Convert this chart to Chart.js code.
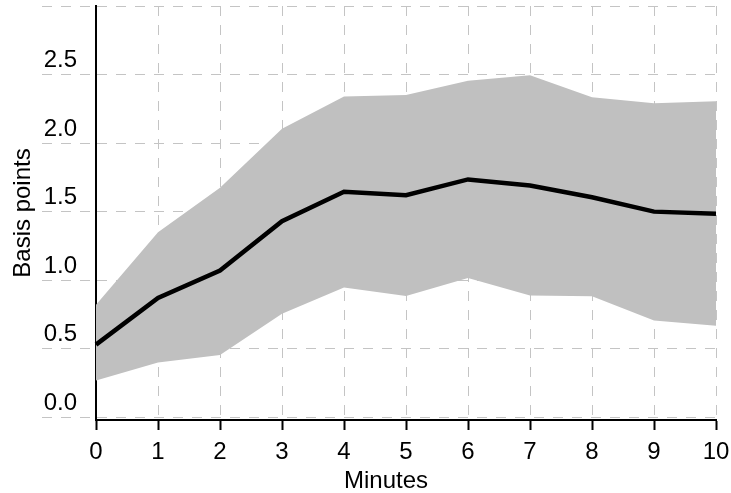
<!DOCTYPE html>
<html>
<head>
<meta charset="utf-8">
<script src="https://cdn.jsdelivr.net/npm/chart.js@4"></script>
<style>
  html, body { margin: 0; padding: 0; background: #ffffff; }
  #wrap { width: 731px; height: 493px; position: relative; }
</style>
</head>
<body>
<div id="wrap"><canvas id="c"></canvas></div>
<script>
// Data
const minutes = ['0', '1', '2', '3', '4', '5', '6', '7', '8', '9', '10'];
const meanValues  = [0.53, 0.87, 1.07, 1.43, 1.645, 1.62, 1.735, 1.69, 1.605, 1.50, 1.485];
const upperValues = [0.82, 1.35, 1.675, 2.105, 2.34, 2.35, 2.455, 2.495, 2.335, 2.29, 2.305];
const lowerValues = [0.268, 0.40, 0.455, 0.755, 0.947, 0.884, 1.016, 0.889, 0.882, 0.706, 0.667];
const yTickValues = [0, 0.5, 1.0, 1.5, 2.0, 2.5, 3.0];
const yTickLabels = ['0.0', '0.5', '1.0', '1.5', '2.0', '2.5', ''];

const FONT = '"Liberation Sans", Arial, Helvetica, sans-serif';
const GRID = '#c4c4c4';
const DASH = [10, 9];

Chart.defaults.font.family = FONT;
Chart.defaults.color = '#000000';

new Chart(document.getElementById('c'), {
  type: 'line',
  data: {
    labels: minutes,
    datasets: [
      {
        label: 'Mean',
        data: meanValues,
        borderColor: '#000000',
        borderWidth: 4.5,
        pointRadius: 0,
        fill: false,
        tension: 0,
        order: 0
      },
      {
        label: 'Upper',
        data: upperValues,
        borderColor: 'rgba(0,0,0,0)',
        borderWidth: 0,
        backgroundColor: '#c0c0c0',
        pointRadius: 0,
        fill: '+1',
        tension: 0,
        order: 1
      },
      {
        label: 'Lower',
        data: lowerValues,
        borderColor: 'rgba(0,0,0,0)',
        borderWidth: 0,
        pointRadius: 0,
        fill: false,
        tension: 0,
        order: 2
      }
    ]
  },
  options: {
    responsive: true,
    maintainAspectRatio: false,
    animation: false,
    layout: { padding: { top: 6, right: 15, bottom: 0, left: 0 } },
    plugins: {
      legend: { display: false },
      tooltip: { enabled: false }
    },
    scales: {
      x: {
        type: 'category',
        offset: false,
        border: { display: true, color: '#000000', width: 2, dash: DASH },
        grid: {
          color: GRID,
          lineWidth: 1,
          drawTicks: true,
          tickLength: 10,
          tickColor: '#000000',
          tickWidth: 2,
          tickBorderDash: []
        },
        ticks: {
          font: { size: 24 },
          padding: 8,
          maxRotation: 0,
          autoSkip: false
        },
        title: {
          display: true,
          text: 'Minutes\u00a0\u00a0\u00a0\u00a0\u00a0\u00a0',
          font: { size: 24, lineHeight: 1 },
          padding: { top: 0, bottom: 0 }
        },
        afterFit(scale) {
          scale.height = 73;
          scale.paddingLeft = 0;
          scale.paddingRight = 0;
        }
      },
      y: {
        type: 'linear',
        min: -0.02,
        max: 3.0,
        border: { display: true, color: '#000000', width: 2, dash: DASH },
        grid: {
          color: GRID,
          lineWidth: 1,
          drawTicks: true,
          tickLength: 54,
          tickColor: GRID,
          tickBorderDash: DASH
        },
        afterBuildTicks(scale) {
          scale.ticks = yTickValues.map(v => ({ value: v }));
        },
        ticks: {
          font: { size: 24 },
          padding: -35,
          labelOffset: -14,
          callback(value, index) { return yTickLabels[index]; }
        },
        title: {
          display: true,
          text: 'Basis points',
          font: { size: 24 },
          padding: { top: 9, bottom: 0 }
        },
        afterFit(scale) {
          scale.width = 96;
          scale.paddingTop = 0;
          scale.paddingBottom = 0;
        }
      }
    }
  }
});
</script>
</body>
</html>
